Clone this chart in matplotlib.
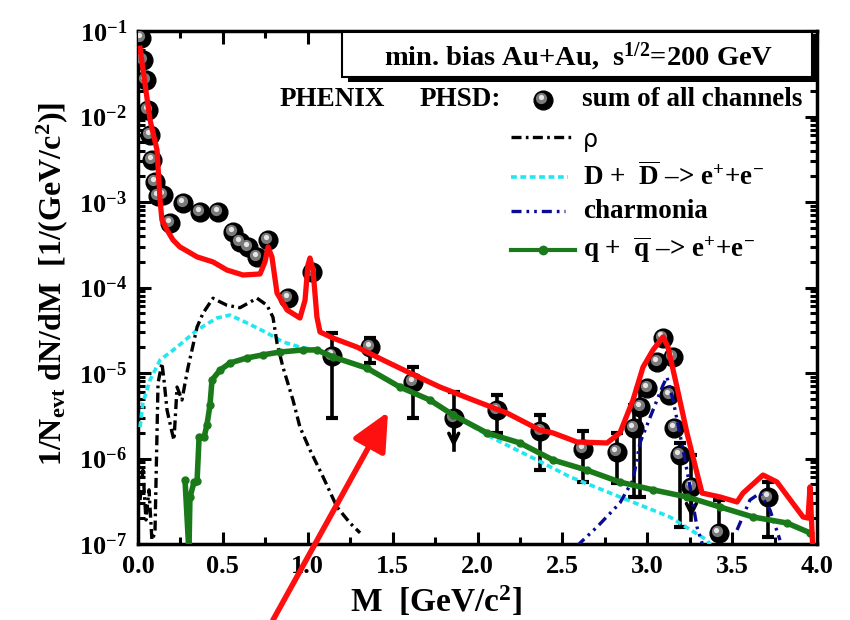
import numpy as np
import matplotlib
matplotlib.use("Agg")
import matplotlib.pyplot as plt
from matplotlib.transforms import offset_copy
from matplotlib.patches import Rectangle, FancyArrowPatch
from matplotlib.ticker import LogLocator, MultipleLocator, FixedLocator, NullFormatter, FixedFormatter

plt.rcParams['font.family'] = ['Liberation Serif', 'DejaVu Serif']
plt.rcParams['font.weight'] = 'bold'
plt.rcParams['mathtext.fontset'] = 'custom'
plt.rcParams['mathtext.rm'] = 'Liberation Serif:bold'
plt.rcParams['mathtext.bf'] = 'Liberation Serif:bold'
plt.rcParams['mathtext.it'] = 'Liberation Serif:bold'
plt.rcParams['mathtext.default'] = 'bf'

# ---------------- data ----------------
# total PHSD dilepton yield (red curve)
sum_M = [0.012, 0.071, 0.112, 0.130, 0.141, 0.171, 0.206, 0.247, 0.289, 0.348, 0.442, 0.524,
         0.619, 0.719, 0.748, 0.766, 0.789, 0.819, 0.878, 0.954, 0.984, 1.001, 1.013, 1.031,
         1.054, 1.072, 1.149, 1.290, 1.443, 1.602, 1.779, 1.974, 2.174, 2.368, 2.445, 2.586,
         2.763, 2.839, 2.916, 2.975, 3.034, 3.093, 3.122, 3.175, 3.234, 3.293, 3.323, 3.429,
         3.529, 3.564, 3.682, 3.764, 3.918, 3.947, 3.959, 3.976]
sum_y = [6.3e-2, 9.1e-3, 4.06e-3, 1.05e-3, 6.15e-4, 4.71e-4, 3.60e-4, 2.98e-4, 2.67e-4, 2.28e-4,
         1.99e-4, 1.60e-4, 1.40e-4, 1.44e-4, 1.99e-4, 2.98e-4, 2.28e-4, 8.6e-5, 5.46e-5, 4.40e-5,
         7.1e-5, 1.83e-4, 2.21e-4, 1.60e-4, 4.52e-5, 3.02e-5, 2.56e-5, 2.01e-5, 1.42e-5, 1.0e-5,
         6.85e-6, 4.83e-6, 3.40e-6, 2.15e-6, 1.99e-6, 1.56e-6, 1.52e-6, 1.99e-6, 4.83e-6, 1.17e-5,
         1.86e-5, 2.64e-5, 2.01e-5, 6.85e-6, 1.99e-6, 6.76e-7, 3.94e-7, 3.55e-7, 3.10e-7, 3.94e-7,
         6.41e-7, 5.31e-7, 2.07e-7, 2.01e-7, 4.65e-7, 7.9e-8]

# rho channel
rho_M = [0.012, 0.029, 0.047, 0.065, 0.082, 0.100, 0.112, 0.118, 0.141, 0.153, 0.171, 0.200,
         0.212, 0.230, 0.259, 0.277, 0.295, 0.318, 0.348, 0.383, 0.442, 0.483, 0.524, 0.601,
         0.701, 0.760, 0.795, 0.819, 0.854, 0.913, 0.954, 1.013, 1.090, 1.172, 1.249, 1.308]
rho_y = [3.27e-7, 7.3e-7, 1.91e-7, 4.3e-7, 1.11e-7, 1.35e-7, 1.99e-6, 7.6e-6, 1.31e-5, 8.3e-6,
         3.69e-6, 2.04e-6, 1.64e-6, 6.85e-6, 4.83e-6, 7.6e-6, 1.17e-5, 1.86e-5, 3.45e-5, 5.0e-5,
         7.5e-5, 6.8e-5, 6.2e-5, 5.8e-5, 7.5e-5, 6.2e-5, 4.5e-5, 2.24e-5, 1.17e-5, 4.83e-6,
         2.33e-6, 1.26e-6, 6.1e-7, 2.71e-7, 1.76e-7, 1.35e-7]

# open charm D + Dbar
dd_M = [0.012, 0.029, 0.071, 0.130, 0.230, 0.348, 0.465, 0.542, 0.642, 0.760, 0.854, 0.954,
        1.054, 1.35, 1.70, 2.06, 2.35, 2.545, 2.839, 3.134, 3.352, 3.40]
dd_y = [2.33e-6, 4.46e-6, 8.28e-6, 1.42e-5, 2.01e-5, 3.18e-5, 4.40e-5, 4.76e-5, 3.85e-5, 2.94e-5,
        2.31e-5, 2.01e-5, 1.86e-5, 1.10e-5, 5.0e-6, 1.86e-6, 9.6e-7, 6.1e-7, 3.55e-7, 2.07e-7,
        1.11e-7, 8.0e-8]

# charmonia (J/psi and psi')
cc_M = [2.586, 2.704, 2.839, 2.916, 2.957, 3.034, 3.093, 3.116, 3.152, 3.211, 3.252, 3.293, 3.328,
        np.nan, 3.529, 3.605, 3.664, 3.723, 3.782]
cc_y = [9.5e-8, 1.58e-7, 3.02e-7, 5.6e-7, 1.52e-6, 3.69e-6, 7.2e-6, 8.97e-6, 4.83e-6, 1.26e-6,
        4.65e-7, 1.58e-7, 9.5e-8, np.nan, 1.46e-7, 3.27e-7, 3.94e-7, 2.5e-7, 1.11e-7]

# partonic q + qbar channel
qq_M = [0.277, 0.300, 0.306, 0.330, 0.348, 0.360, 0.390, 0.406, 0.424, 0.436, 0.483, 0.542,
        0.642, 0.736, 0.837, 0.972, 1.054, 1.149, 1.349, 1.543, 1.720, 1.856, 2.056, 2.250,
        2.445, 2.645, 2.839, 3.034, 3.234, 3.429, 3.623, 3.823, 3.959]
qq_y = [5.6e-7, 8.0e-8, 3.5e-7, 5.3e-7, 5.5e-7, 1.8e-6, 1.8e-6, 2.46e-6, 4.2e-6, 8.3e-6,
        1.08e-5, 1.31e-5, 1.50e-5, 1.63e-5, 1.76e-5, 1.86e-5, 1.86e-5, 1.54e-5, 1.14e-5,
        6.85e-6, 4.83e-6, 3.23e-6, 1.99e-6, 1.52e-6, 9.6e-7, 7.3e-7, 5.3e-7, 4.3e-7, 3.55e-7,
        2.71e-7, 2.07e-7, 1.76e-7, 1.35e-7]

# PHENIX data points
pts_M = [0.018, 0.030, 0.045, 0.059, 0.071, 0.082, 0.100, 0.118, 0.147, 0.189, 0.267, 0.365,
         0.470, 0.560, 0.600, 0.648, 0.700, 0.766, 0.884, 1.025, 1.143, 1.367, 1.620, 1.860,
         2.115, 2.370, 2.620, 2.820, 2.920, 2.960, 3.000, 3.060, 3.090, 3.150, 3.130, 3.160,
         3.190, 3.260, 3.420, 3.710]
pts_y = [8.3e-2, 4.6e-2, 2.7e-2, 1.19e-2, 6.1e-3, 3.1e-3, 1.71e-3, 1.17e-3, 1.21e-3, 5.7e-4,
         9.7e-4, 7.7e-4, 7.7e-4, 4.5e-4, 3.4e-4, 2.95e-4, 2.3e-4, 3.6e-4, 7.6e-5, 1.5e-4,
         1.6e-5, 2.0e-5, 7.8e-6, 2.95e-6, 3.7e-6, 2.1e-6, 1.3e-6, 1.2e-6, 2.3e-6, 4.0e-6,
         6.6e-6, 1.35e-5, 2.6e-5, 1.55e-5, 5.5e-6, 2.3e-6, 1.1e-6, 4.7e-7, 1.35e-7, 3.5e-7]

# error bars (low / high ends)
err_M = [1.143, 1.367, 1.620, 2.115, 2.370, 2.620, 2.820, 2.920, 2.960, 3.190, 3.420, 3.710]
err_lo = [2.95e-6, 1.3e-5, 2.95e-6, 2.0e-6, 7.4e-7, 5.3e-7, 5.2e-7, 3.5e-7, 3.5e-7, 1.6e-7, 5e-8, 1.2e-7]
err_hi = [2.95e-5, 2.6e-5, 1.17e-5, 5.5e-6, 3.2e-6, 2.1e-6, 2.0e-6, 4.2e-6, 6.5e-6, 1.5e-6, 3.3e-7, 5.3e-7]

# upper limits (bar top, arrow tip)
ul_M = [1.860, 3.260]
ul_top = [6.0e-6, 1.1e-6]
ul_tip = [1.26e-6, 1.9e-7]

yticks = [1e-7, 1e-6, 1e-5, 1e-4, 1e-3, 1e-2, 1e-1]
ytick_labels = [r'$10^{-7}$', r'$10^{-6}$', r'$10^{-5}$', r'$10^{-4}$', r'$10^{-3}$', r'$10^{-2}$', r'$10^{-1}$']
xticks = [0.0, 0.5, 1.0, 1.5, 2.0, 2.5, 3.0, 3.5, 4.0]
xtick_labels = ['0.0', '0.5', '1.0', '1.5', '2.0', '2.5', '3.0', '3.5', '4.0']

# ---------------- figure ----------------
fig = plt.figure(figsize=(8.5, 6.2), dpi=100)
ax = fig.add_axes([138 / 850, 1 - 544 / 620, 679 / 850, 513 / 620])
ax.set_yscale('log')
ax.set_xlim(0, 4.0)
ax.set_ylim(1e-7, 1e-1)


def sphere(axis, x, y, trans, size=13.5):
    axis.plot(x, y, 'o', ms=size, color='black', mec='black', transform=trans, zorder=4, ls='none')
    t1 = offset_copy(trans, fig=fig, x=-1.2, y=1.4, units='points')
    axis.plot(x, y, 'o', ms=size * 0.6, color='#7a7a7a', mew=0, transform=t1, zorder=4, ls='none')
    t2 = offset_copy(trans, fig=fig, x=-1.6, y=2.2, units='points')
    axis.plot(x, y, 'o', ms=size * 0.28, color='#e6e6e6', mew=0, transform=t2, zorder=4, ls='none')


# error bars
ax.vlines(err_M, err_lo, err_hi, color='black', lw=2.6, zorder=3)
ax.plot(err_M, err_lo, '_', ms=8, mew=3, color='black', zorder=3, ls='none')
ax.plot(err_M, err_hi, '_', ms=8, mew=3, color='black', zorder=3, ls='none')
for m, top, tip in zip(ul_M, ul_top, ul_tip):
    ax.plot([m, m], [top, tip], color='black', lw=2.6, zorder=3)
    ax.plot(m, top, '_', ms=8, mew=3, color='black', zorder=3)
    ax.annotate('', xy=(m, tip), xytext=(m, tip * 2.2),
                arrowprops=dict(arrowstyle='->,head_length=0.7,head_width=0.35', lw=2.6, color='black'),
                zorder=3)

sphere(ax, pts_M, pts_y, ax.transData)

# model curves
ax.plot(dd_M, dd_y, color='#22e6f0', lw=2.6, ls=(0, (1.6, 1.0)), zorder=5)
ax.plot(rho_M, rho_y, color='black', lw=2.4, ls=(0, (3, 1.3, 0.8, 1.3)), zorder=5)
ax.plot(cc_M, cc_y, color='#0a0a96', lw=2.4, ls=(0, (3, 1.5, 0.8, 1.5, 0.8, 1.5)), zorder=5)
ax.plot(qq_M, qq_y, color='#1a7a1a', lw=4.0, marker='o', ms=5, solid_capstyle='round', zorder=6)
ax.plot(sum_M, sum_y, color='#ff0a0a', lw=3.8, solid_joinstyle='round', zorder=7)

# axes styling
for sp in ax.spines.values():
    sp.set_linewidth(2.5)
ax.yaxis.set_major_locator(FixedLocator(yticks))
ax.yaxis.set_major_formatter(FixedFormatter(ytick_labels))
ax.yaxis.set_minor_locator(LogLocator(base=10, subs=np.arange(2, 10)))
ax.yaxis.set_minor_formatter(NullFormatter())
ax.xaxis.set_major_locator(FixedLocator(xticks))
ax.xaxis.set_major_formatter(FixedFormatter(xtick_labels))
ax.xaxis.set_minor_locator(MultipleLocator(0.25))
ax.tick_params(which='both', direction='in', top=True, right=True, width=2.2)
ax.tick_params(which='major', length=9, labelsize=19, pad=8)
ax.tick_params(which='minor', length=5)
for lab in ax.get_xticklabels() + ax.get_yticklabels():
    lab.set_fontweight('bold')

ax.set_xlabel(r'M  [GeV/c$^2$]', fontsize=24, fontweight='bold')
ax.set_ylabel(r'1/N$_{\rm evt}$ dN/dM  [1/(GeV/c$^2$)]', fontsize=23, fontweight='bold')
ax.xaxis.set_label_coords(0.439, -0.078)
ax.yaxis.set_label_coords(-0.100, 0.507)

# header box with shadow
def fx(px):
    return (px - 138) / 679


def fy(py):
    return (544 - py) / 513


ax.add_patch(Rectangle((fx(348), fy(82)), fx(817) - fx(348), fy(37) - fy(82), transform=ax.transAxes,
                       facecolor='black', edgecolor='none', zorder=8, clip_on=False))
ax.add_patch(Rectangle((fx(342), fy(77)), fx(812) - fx(342), fy(32) - fy(77), transform=ax.transAxes,
                       facecolor='white', edgecolor='black', lw=1.5, zorder=9, clip_on=False))
ax.text(fx(579), fy(57), r'min. bias Au+Au,  s$^{1/2}$=200 GeV', transform=ax.transAxes,
        ha='center', va='center', fontsize=20.5, fontweight='bold', zorder=10)

# legend
LEG_FS = 19.5
ax.text(fx(280), fy(100), 'PHENIX', transform=ax.transAxes, ha='left', va='center',
        fontsize=LEG_FS, fontweight='bold', zorder=10)
ax.text(fx(420), fy(100), 'PHSD:', transform=ax.transAxes, ha='left', va='center',
        fontsize=LEG_FS, fontweight='bold', zorder=10)
sphere(ax, [fx(543)], [fy(100)], ax.transAxes)
ax.text(fx(582), fy(100), 'sum of all channels', transform=ax.transAxes, ha='left', va='center',
        fontsize=LEG_FS, fontweight='bold', zorder=10)

ax.plot([fx(511), fx(575)], [fy(137), fy(137)], transform=ax.transAxes, color='black', lw=2.4,
        ls=(0, (3, 1.3, 0.8, 1.3)), zorder=10)
ax.text(fx(583), fy(140), 'ρ', transform=ax.transAxes, ha='left', va='center',
        fontsize=17, fontweight='normal', family=['DejaVu Sans'], zorder=10)
ax.plot([fx(511), fx(568)], [fy(177), fy(177)], transform=ax.transAxes, color='#22e6f0', lw=2.6,
        ls=(0, (1.6, 1.0)), zorder=10)
ax.text(fx(583), fy(177), r'D +  $\overline{\rm D}$ –> e$^{+}$+e$^{-}$', transform=ax.transAxes,
        ha='left', va='center', fontsize=LEG_FS, fontweight='bold', zorder=10)
ax.plot([fx(511), fx(565)], [fy(211), fy(211)], transform=ax.transAxes, color='#0a0a96', lw=2.4,
        ls=(0, (3, 1.5, 0.8, 1.5, 0.8, 1.5)), zorder=10)
ax.text(fx(583), fy(211), 'charmonia', transform=ax.transAxes, ha='left', va='center',
        fontsize=LEG_FS, fontweight='bold', zorder=10)
ax.plot([fx(511), fx(575)], [fy(250), fy(250)], transform=ax.transAxes, color='#1a7a1a', lw=3.0,
        zorder=10)
ax.plot([fx(543)], [fy(250)], 'o', ms=6, transform=ax.transAxes, color='#1a7a1a', zorder=10)
ax.text(fx(583), fy(250), r'q +  $\overline{\rm q}$ –> e$^{+}$+e$^{-}$', transform=ax.transAxes,
        ha='left', va='center', fontsize=LEG_FS, fontweight='bold', zorder=10)

# red pointer arrow
arrow = FancyArrowPatch((273, 0), (388, 208), transform=None,
                        arrowstyle='-|>,head_length=1.05,head_width=0.5', mutation_scale=22,
                        shrinkA=0, shrinkB=0, lw=4.0, color='#ff1010', zorder=20)
fig.patches.append(arrow)

fig.savefig('out.png', dpi=100)
